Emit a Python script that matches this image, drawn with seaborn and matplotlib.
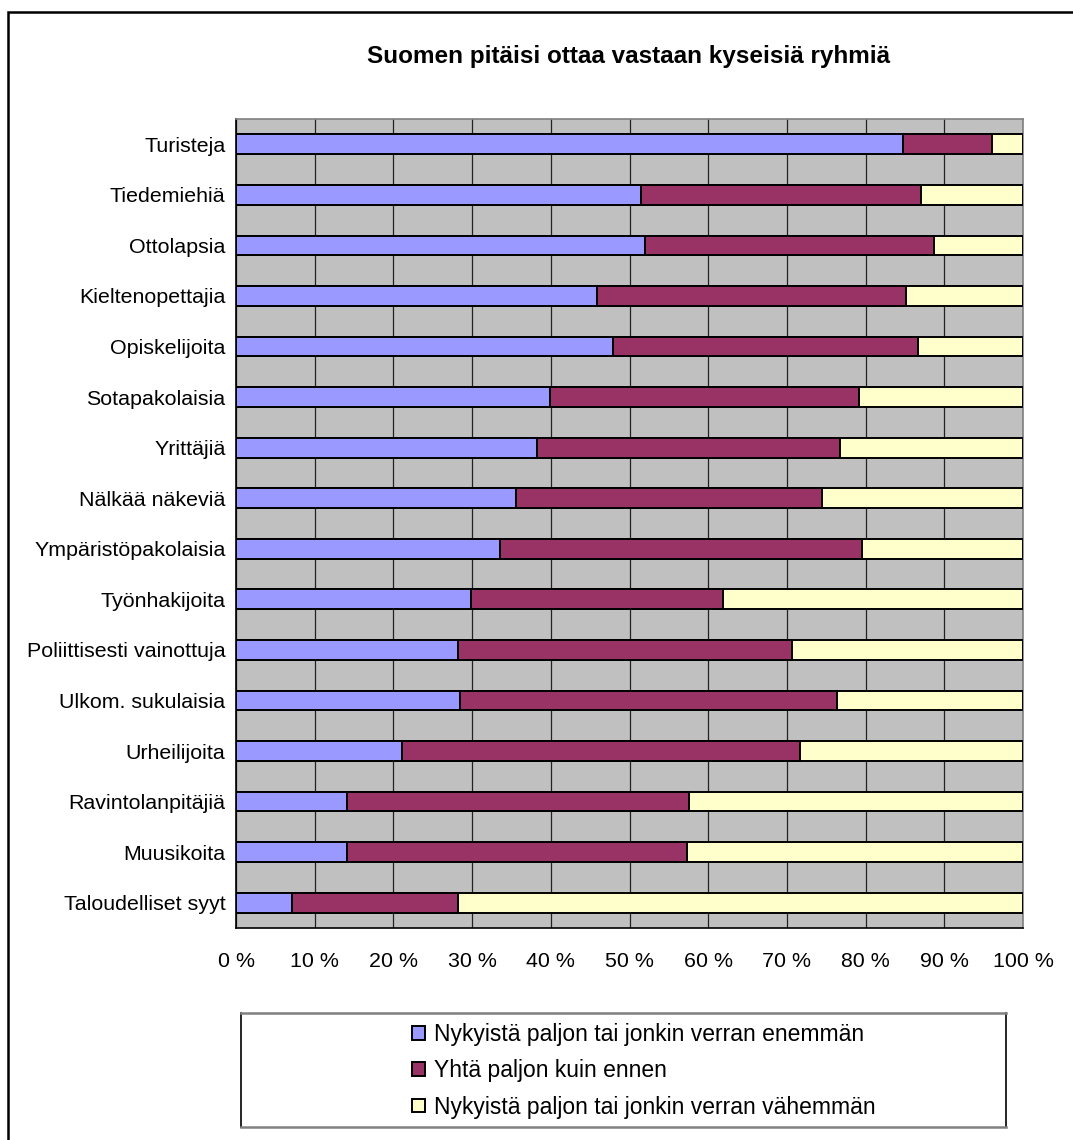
import matplotlib
matplotlib.use("Agg")
import matplotlib.pyplot as plt
from matplotlib.patches import Patch, Rectangle
import seaborn as sns
import pandas as pd

categories = ["Turisteja", "Tiedemiehiä", "Ottolapsia", "Kieltenopettajia", "Opiskelijoita",
              "Sotapakolaisia", "Yrittäjiä", "Nälkää näkeviä", "Ympäristöpakolaisia",
              "Työnhakijoita", "Poliittisesti vainottuja", "Ulkom. sukulaisia", "Urheilijoita",
              "Ravintolanpitäjiä", "Muusikoita", "Taloudelliset syyt"]
enemman = [84.7, 51.5, 52.0, 45.9, 47.9, 39.9, 38.3, 35.6, 33.6, 29.8, 28.2, 28.5, 21.1, 14.1, 14.1, 7.1]
yhta = [11.3, 35.5, 36.7, 39.2, 38.8, 39.2, 38.4, 38.8, 46.0, 32.1, 42.5, 47.9, 50.6, 43.4, 43.2, 21.1]
vahemman = [4.0, 13.0, 11.3, 14.9, 13.3, 20.9, 23.3, 25.6, 20.4, 38.1, 29.3, 23.6, 28.3, 42.5, 42.7, 71.8]
series_labels = ["Nykyistä paljon tai jonkin verran enemmän", "Yhtä paljon kuin ennen",
                 "Nykyistä paljon tai jonkin verran vähemmän"]
xtick_values = [0, 10, 20, 30, 40, 50, 60, 70, 80, 90, 100]
xtick_labels = ["0 %", "10 %", "20 %", "30 %", "40 %", "50 %", "60 %", "70 %", "80 %", "90 %", "100 %"]
title = "Suomen pitäisi ottaa vastaan kyseisiä ryhmiä"

colors = ["#9999FF", "#993366", "#FFFFCC"]

sns.set_theme(style="white")
plt.rcParams["font.family"] = ["Liberation Sans", "DejaVu Sans"]
plt.rcParams["text.color"] = "black"
plt.rcParams["xtick.color"] = "black"
plt.rcParams["ytick.color"] = "black"

df = pd.DataFrame({"cat": categories, "a": enemman, "b": yhta, "c": vahemman})
df["cum_b"] = df["a"] + df["b"]
df["cum_c"] = df["a"] + df["b"] + df["c"]

W, H = 1073, 1140
fig = plt.figure(figsize=(W / 100, H / 100), dpi=100)
fig.patch.set_facecolor("white")

ax = fig.add_axes([236 / W, 1 - 928 / H, (1023 - 236) / W, (928 - 119) / H])
ax.set_facecolor("#C0C0C0")

bw = 0.39
common = dict(orient="h", width=bw, edgecolor="black", linewidth=1.4, ax=ax, zorder=3)
sns.barplot(data=df, x="cum_c", y="cat", color=colors[2], saturation=1, **common)
sns.barplot(data=df, x="cum_b", y="cat", color=colors[1], saturation=1, **common)
sns.barplot(data=df, x="a", y="cat", color=colors[0], saturation=1, **common)

ax.set_xlim(0, 100)
ax.set_ylim(len(categories) - 0.5, -0.5)
ax.set_xlabel("")
ax.set_ylabel("")

ax.set_xticks(xtick_values)
ax.set_xticklabels(xtick_labels, fontsize=15.4, color="black")
ax.tick_params(axis="x", direction="out", length=5, width=1, color="black", pad=12)

ax.set_yticks(range(len(categories)))
ax.set_yticklabels(categories, fontsize=15.4, color="black")
ax.set_yticks([i - 0.5 for i in range(len(categories) + 1)], minor=True)
ax.tick_params(axis="y", which="major", length=0, pad=7.5)
ax.tick_params(axis="y", which="minor", direction="out", length=5, width=1, color="black")

ax.set_axisbelow(True)
ax.xaxis.grid(True, color="#222222", linewidth=0.9)
ax.yaxis.grid(False)

for side in ["left", "bottom"]:
    ax.spines[side].set_color("black")
    ax.spines[side].set_linewidth(1.2)
for side in ["top", "right"]:
    ax.spines[side].set_color("#808080")
    ax.spines[side].set_linewidth(1.2)

fig.text(629 / W, 1 - 56 / H, title, ha="center", va="center", fontsize=17.5,
         fontweight="bold", color="black")

# legend box
lax = fig.add_axes([240.7 / W, 1 - 1126.7 / H, (1005.7 - 240.7) / W, (1126.7 - 1012.7) / H])
lax.set_xticks([])
lax.set_yticks([])
lax.set_facecolor("white")
for side in ["top", "bottom"]:
    lax.spines[side].set_color("#808080")
    lax.spines[side].set_linewidth(1.8)
for side in ["left", "right"]:
    lax.spines[side].set_color("black")
    lax.spines[side].set_linewidth(1.2)
handles = [Patch(facecolor=c, edgecolor="black", linewidth=1.4) for c in colors]
leg = lax.legend(handles, series_labels, loc="upper left", bbox_to_anchor=((412 - 240.7) / 765, 0.91),
                 frameon=False, fontsize=16.5, handlelength=0.55, handleheight=0.55, handletextpad=0.4,
                 labelspacing=0.58, borderpad=0, borderaxespad=0)
for t in leg.get_texts():
    t.set_color("black")

# outer chart border
fig.patches.append(Rectangle((8 / W, -0.1), 1.2, 1.1 - 11.7 / H, transform=fig.transFigure,
                             fill=False, edgecolor="black", linewidth=1.8, clip_on=False))

fig.savefig("out.png", dpi=100)
